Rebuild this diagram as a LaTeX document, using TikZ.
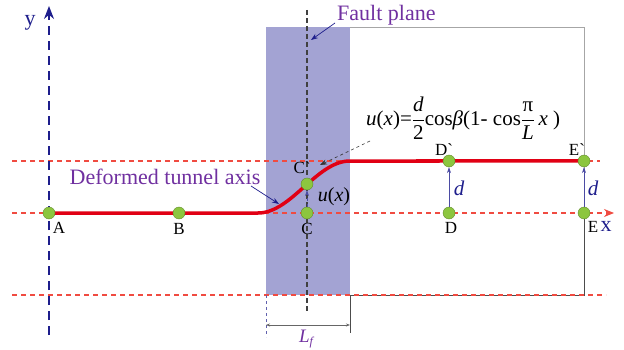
\documentclass[tikz,border=0pt]{standalone}
\usepackage{amsmath}
\usepackage{fontspec}
\setmainfont{Liberation Serif}
\usetikzlibrary{arrows.meta}
\definecolor{faultfill}{RGB}{163,163,211}
\definecolor{purp}{RGB}{112,48,160}
\definecolor{navy}{RGB}{30,30,140}
\definecolor{tred}{RGB}{225,0,20}
\definecolor{dashred}{RGB}{240,75,65}
\definecolor{pgreen}{RGB}{140,198,63}
\tikzset{
  pt/.style={circle,fill=pgreen,draw=pgreen!70!black,line width=0.4pt,inner sep=0pt,minimum size=12pt},
  lbl/.style={font=\fontsize{17}{17}\selectfont,text=black,inner sep=1pt},
  refline/.style={draw=dashred,line width=1.05pt,dash pattern=on 5pt off 4pt},
  plab/.style={text=purp,font=\fontsize{22}{22}\selectfont,inner sep=0pt},
  darr/.style={navy!80,line width=0.6pt,-{Stealth[length=6pt,width=4pt]}},
}
\begin{document}
\begin{tikzpicture}[x=1pt,y=-1pt]
\useasboundingbox (0,0) rectangle (624,350);
% fault zone
\fill[faultfill] (266,27) rectangle (350,295);
% gray box
\draw[gray!70,line width=0.8pt] (350,27) -- (584,27) -- (584,213);
\draw[black!70,line width=0.8pt] (584,213) -- (584,295) -- (350,295) -- (350,333);
% reference lines
\draw[refline] (12,161) -- (600,161);
\draw[refline] (12,295) -- (606,295);
\draw[refline,-{Stealth[length=10pt,width=8pt,fill=dashred]}] (12,213) -- (614,213);
% y axis
\draw[navy,line width=1.3pt,dash pattern=on 9pt off 6pt,-{Stealth[length=13pt,width=10pt]}] (49,335) -- (49,6);
\node[text=navy,font=\fontsize{22}{22}\selectfont] (ylab) at (30,23) {y};
\node[text=navy,font=\fontsize{22}{22}\selectfont] (xlab) at (606,226) {x};
% fault plane
\draw[black!75,line width=1.3pt,dash pattern=on 5pt off 3pt] (307,10) -- (307,313);
% L_f dimension
\draw[navy!70,dashed,line width=0.6pt] (266,295) -- (266,337);
\coordinate (lfa) at (266,325);
\coordinate (lfb) at (350,325);
\draw[black!60,line width=0.6pt,{Stealth[length=4pt,width=3pt]}-{Stealth[length=4pt,width=3pt]}] (lfa) -- (lfb);
\node[text=purp,font=\fontsize{19}{19}\selectfont] (lf) at (306,339) {\itshape L\raisebox{-0.35ex}{\fontsize{12}{12}\selectfont f}};
% tunnel axis
\draw[tred,line width=3.5pt] (49,213) -- (258,213)
  -- plot[domain=0:1,samples=50] ({258+92*\x},{213-26*(1-cos(180*\x))})
  -- (584,161);
% points
\node[pt] (A) at (49,213) {};
\node[pt] (B) at (179,213) {};
\node[pt] (C) at (307,213) {};
\node[pt] (Cp) at (307,184) {};
\node[pt] (D) at (449,213) {};
\node[pt] (Dp) at (449,161) {};
\node[pt] (E) at (584,213) {};
\node[pt] (Ep) at (584,161) {};
% point labels
\node[lbl] at (59,228) {A};
\node[lbl] at (179,229) {B};
\node[lbl] at (307,229) {C};
\node[lbl] at (302,168) {C\textasciigrave};
\node[lbl] at (444,150) {D\textasciigrave};
\node[lbl] at (577,150) {E\textasciigrave};
\node[lbl] at (451,228) {D};
\node[lbl] at (593,227) {E};
% displacement arrows
\draw[darr] (D) -- (Dp);
\draw[darr] (E) -- (Ep);
\draw[darr,dashed] (C) -- (Cp);
\node[text=navy,font=\fontsize{21}{21}\selectfont] (d1) at (459,188) {\itshape d};
\node[text=navy,font=\fontsize{21}{21}\selectfont] (d2) at (593,188) {\itshape d};
\node[font=\fontsize{20}{20}\selectfont] (ux) at (334,197) {\itshape u\/\upshape(\itshape x\/\upshape)};
% formula
\node[font=\fontsize{21}{21}\selectfont,inner sep=0pt,anchor=west] (form) at (366,118) {{\itshape u\/}({\itshape x\/})=$\dfrac{\text{\itshape d}}{\text{2}}$cos{\itshape β}(1- cos$\dfrac{\text{π}}{\text{\itshape L}}$\,{\itshape x} )};
\coordinate (fa) at (370,141);
\coordinate (fb) at (320,165);
\draw[black!80,dashed,line width=0.6pt,-{Stealth[length=7pt,width=5pt]}] (fa) -- (fb);
% labels with arrows
\node[plab,anchor=west] (fp) at (337,15) {Fault plane};
\coordinate (fpt) at (311,40);
\draw[navy,line width=0.7pt,-{Stealth[length=7pt,width=5pt]}] (fp.west) ++(-2,8) -- (fpt);
\node[plab] (dta) at (165,177) {Deformed tunnel axis};
\coordinate (dtt) at (279,204);
\draw[navy,line width=0.7pt,-{Stealth[length=7pt,width=5pt]}] (251,186) -- (dtt);
\end{tikzpicture}
\end{document}
